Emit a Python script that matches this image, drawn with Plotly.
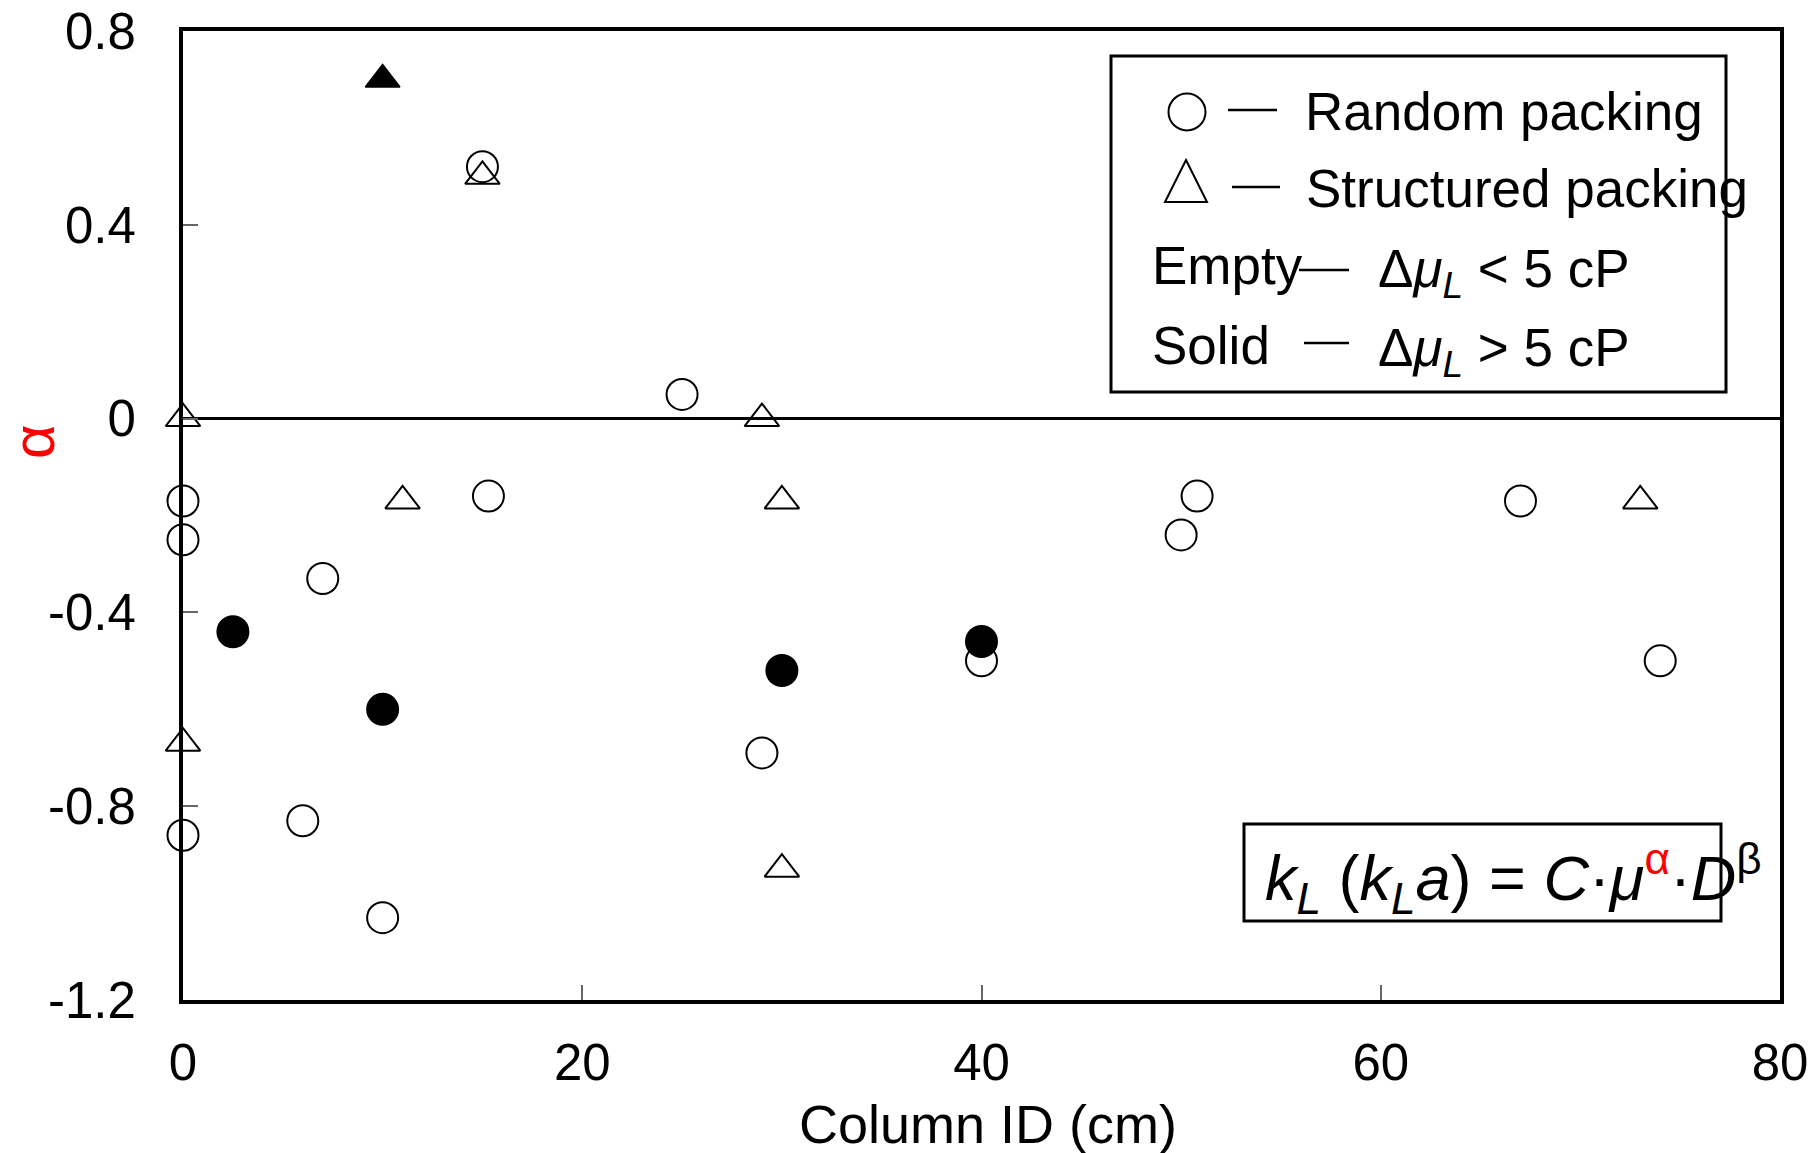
import plotly.graph_objects as go

# ---------------- data ----------------
random_empty_x = [0, 0, 0, 7, 6, 10, 15, 15.3, 25, 29, 40, 50, 50.8, 67, 74]
random_empty_y = [-0.17, -0.25, -0.86, -0.33, -0.83, -1.03, 0.52, -0.16, 0.05, -0.69, -0.50, -0.24, -0.16, -0.17, -0.50]

random_solid_x = [2.5, 10, 30, 40]
random_solid_y = [-0.44, -0.60, -0.52, -0.46]

structured_empty_x = [0, 0, 11, 15, 29, 30, 30, 73]
structured_empty_y = [0, -0.67, -0.17, 0.50, 0, -0.17, -0.93, -0.17]

structured_solid_x = [10]
structured_solid_y = [0.70]

x_ticks = [0, 20, 40, 60, 80]
x_tick_labels = ["0", "20", "40", "60", "80"]
y_ticks = [0.8, 0.4, 0, -0.4, -0.8, -1.2]
y_tick_labels = ["0.8", "0.4", "0", "-0.4", "-0.8", "-1.2"]

# ---------------- layout geometry (page pixels) ----------------
W, H = 1820, 1153
L, R, T, B = 183, 1780, 31, 1000
FONT = "Liberation Sans, Arial, sans-serif"


def px(x):
    return (x - L) / (R - L)


def py(y):
    return (B - y) / (B - T)


fig = go.Figure()

fig.add_trace(go.Scatter(
    x=random_empty_x, y=random_empty_y, mode="markers", cliponaxis=False,
    marker=dict(symbol="circle-open", size=31, color="black", line=dict(width=2)),
    showlegend=False))
fig.add_trace(go.Scatter(
    x=random_solid_x, y=random_solid_y, mode="markers", cliponaxis=False,
    marker=dict(symbol="circle", size=31, color="black", line=dict(width=2, color="black")),
    showlegend=False))
fig.add_trace(go.Scatter(
    x=structured_empty_x, y=structured_empty_y, mode="markers", cliponaxis=False,
    marker=dict(symbol="triangle-up-open", size=30, color="black", line=dict(width=2)),
    showlegend=False))
fig.add_trace(go.Scatter(
    x=structured_solid_x, y=structured_solid_y, mode="markers", cliponaxis=False,
    marker=dict(symbol="triangle-up", size=30, color="black", line=dict(width=1.5, color="black")),
    showlegend=False))

axis_common = dict(
    showline=True, linewidth=4, linecolor="black", mirror=True,
    showgrid=False, ticks="inside", ticklen=15, tickwidth=1.5, tickcolor="#666",
    tickfont=dict(family=FONT, size=51, color="black"),
    ticklabeloverflow="allow",
)

fig.update_xaxes(range=[0, 80], tickmode="array", tickvals=x_ticks, ticktext=x_tick_labels,
                 zeroline=False, ticklabelstandoff=15, **axis_common)
fig.update_yaxes(range=[-1.2, 0.8], tickmode="array", tickvals=y_ticks, ticktext=y_tick_labels,
                 zeroline=True, zerolinecolor="black", zerolinewidth=3,
                 ticklabelstandoff=33, **axis_common)

shapes = []
# legend box
shapes.append(dict(type="rect", xref="paper", yref="paper",
                   x0=px(1111), x1=px(1726), y0=py(392), y1=py(56),
                   line=dict(color="black", width=3), fillcolor="white", layer="below"))
# formula box
shapes.append(dict(type="rect", xref="paper", yref="paper",
                   x0=px(1244), x1=px(1721), y0=py(921), y1=py(824),
                   line=dict(color="black", width=3)))
# legend circle symbol
shapes.append(dict(type="circle", xref="paper", yref="paper",
                   x0=px(1187 - 18.5), x1=px(1187 + 18.5), y0=py(112 + 18.5), y1=py(112 - 18.5),
                   line=dict(color="black", width=2)))
# legend triangle symbol
shapes.append(dict(type="path", xref="paper", yref="paper",
                   path=f"M {px(1186)},{py(160)} L {px(1207)},{py(202)} L {px(1165)},{py(202)} Z",
                   line=dict(color="black", width=2)))
# legend dashes
for x0, x1, yy in [(1228, 1277, 110), (1232, 1280, 187), (1299, 1349, 270), (1304, 1349, 343)]:
    shapes.append(dict(type="line", xref="paper", yref="paper",
                       x0=px(x0), x1=px(x1), y0=py(yy), y1=py(yy),
                       line=dict(color="black", width=2.5)))

ann = []


def text(t, x, y, size=53, color="black", xanchor="left", angle=0):
    ann.append(dict(text=t, x=px(x), y=py(y), xref="paper", yref="paper",
                    xanchor=xanchor, yanchor="middle", showarrow=False, textangle=angle,
                    font=dict(family=FONT, size=size, color=color)))


text("Random packing", 1303, 112)
text("Structured packing", 1304, 189)
text("Empty", 1150, 266)
text("Δ<i>μ</i><sub><i>L</i></sub> &lt; 5 cP", 1376, 272)
text("Solid", 1150, 345)
text("Δ<i>μ</i><sub><i>L</i></sub> &gt; 5 cP", 1376, 351)

text("<i>k</i><sub><i>L</i></sub> (<i>k</i><sub><i>L</i></sub><i>a</i>) = <i>C</i>·<i>μ</i>"
     "<sup><span style='color:red'>α</span></sup>·<i>D</i><sup>β</sup>",
     1263, 878, size=63)

text("Column ID (cm)", 988, 1124, size=54, xanchor="center")
text("α", 33, 442, size=60, color="red", xanchor="center", angle=-90)

fig.update_layout(
    width=W, height=H, autosize=False,
    margin=dict(l=L, r=W - R, t=T, b=H - B, pad=0, autoexpand=False),
    paper_bgcolor="white", plot_bgcolor="white",
    shapes=shapes, annotations=ann,
    font=dict(family=FONT, color="black"),
)

# remove the default page margin so the figure fills the window exactly
fig.write_html(
    "out.html",
    config={"displayModeBar": False},
    post_script="document.body.style.margin='0px';"
                "document.documentElement.style.overflow='hidden';",
)
